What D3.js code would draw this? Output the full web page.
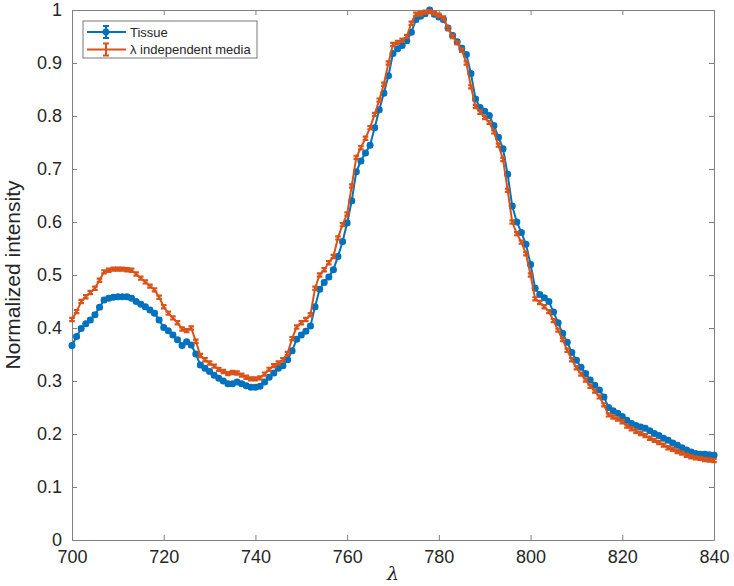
<!DOCTYPE html>
<html>
<head>
<meta charset="utf-8">
<script src="https://cdn.jsdelivr.net/npm/d3@7"></script>
<style>
  body { margin: 0; background: #fff; }
  text { font-family: "Liberation Sans", Arial, Helvetica, sans-serif; fill: #262626; }
</style>
</head>
<body>
<div id="chart"></div>
<script>
// wavelengths (nm)
var wavelengths = [700,701,702,703,704,705,706,707,708,709,710,711,712,713,714,715,716,717,718,719,
  720,721,722,723,724,725,726,727,728,729,730,731,732,733,734,735,736,737,738,739,
  740,741,742,743,744,745,746,747,748,749,750,751,752,753,754,755,756,757,758,759,
  760,761,762,763,764,765,766,767,768,769,770,771,772,773,774,775,776,777,778,779,
  780,781,782,783,784,785,786,787,788,789,790,791,792,793,794,795,796,797,798,799,
  800,801,802,803,804,805,806,807,808,809,810,811,812,813,814,815,816,817,818,819,
  820,821,822,823,824,825,826,827,828,829,830,831,832,833,834,835,836,837,838,839,840];

var tissue = [0.367,0.384,0.399,0.408,0.415,0.425,0.439,0.453,0.456,0.458,0.459,0.459,0.459,0.456,0.450,0.445,0.440,0.434,0.428,0.415,
  0.401,0.395,0.387,0.378,0.367,0.374,0.368,0.351,0.330,0.324,0.318,0.311,0.305,0.300,0.295,0.295,0.298,0.295,0.291,0.288,
  0.288,0.290,0.298,0.307,0.315,0.324,0.329,0.340,0.357,0.379,0.387,0.394,0.404,0.440,0.473,0.486,0.496,0.510,0.535,0.563,
  0.598,0.640,0.695,0.715,0.730,0.745,0.778,0.812,0.843,0.876,0.918,0.927,0.933,0.942,0.958,0.982,0.988,0.993,1.000,0.992,
  0.987,0.982,0.966,0.952,0.940,0.928,0.916,0.880,0.832,0.816,0.809,0.801,0.782,0.760,0.738,0.690,0.630,0.600,0.580,0.558,
  0.520,0.475,0.463,0.457,0.450,0.430,0.410,0.390,0.373,0.354,0.339,0.326,0.314,0.302,0.292,0.283,0.270,0.250,0.244,0.239,
  0.233,0.226,0.220,0.216,0.213,0.211,0.206,0.201,0.197,0.192,0.188,0.183,0.179,0.174,0.170,0.166,0.163,0.162,0.162,0.161,0.160];

var media = [0.416,0.431,0.450,0.459,0.467,0.475,0.490,0.506,0.509,0.511,0.511,0.511,0.510,0.509,0.502,0.494,0.487,0.479,0.472,0.458,
  0.440,0.428,0.419,0.410,0.398,0.395,0.400,0.375,0.348,0.340,0.334,0.328,0.322,0.318,0.314,0.316,0.315,0.311,0.307,0.304,
  0.304,0.306,0.313,0.322,0.329,0.334,0.340,0.352,0.380,0.402,0.410,0.416,0.425,0.475,0.500,0.510,0.523,0.535,0.570,0.595,
  0.615,0.668,0.722,0.740,0.758,0.778,0.803,0.830,0.860,0.900,0.935,0.939,0.943,0.950,0.975,0.992,0.993,0.996,0.997,0.994,
  0.990,0.985,0.965,0.950,0.938,0.924,0.900,0.855,0.818,0.807,0.797,0.788,0.770,0.745,0.718,0.660,0.600,0.578,0.562,0.540,
  0.500,0.455,0.448,0.440,0.431,0.414,0.396,0.378,0.358,0.340,0.325,0.313,0.302,0.290,0.281,0.270,0.255,0.236,0.232,0.228,
  0.223,0.215,0.210,0.205,0.201,0.197,0.192,0.188,0.184,0.179,0.174,0.171,0.167,0.164,0.160,0.157,0.155,0.154,0.152,0.151,0.150];

var errHalf = 0.003;   // error bars are tiny, about the same everywhere
var xTicks = [700,720,740,760,780,800,820,840];
var yTicks = [0,0.1,0.2,0.3,0.4,0.5,0.6,0.7,0.8,0.9,1];
var seriesNames = ["Tissue", "\u03bb independent media"];
var colors = ["#0072BD", "#D95319"];

var margin = {top: 10, right: 20, bottom: 46, left: 72},
    width = 734 - margin.left - margin.right,
    height = 586 - margin.top - margin.bottom;

var svg = d3.select("#chart").append("svg")
    .attr("width", 734)
    .attr("height", 586)
  .append("g")
    .attr("transform", "translate(" + margin.left + "," + margin.top + ")");

var x = d3.scaleLinear().domain([700, 840]).range([0, width]);
var y = d3.scaleLinear().domain([0, 1]).range([height, 0]);
var fmt = function(d){ return String(+d.toFixed(1)); };

function styleAxis(g){
    g.selectAll(".domain").attr("stroke", "#808080");
    g.selectAll(".tick line").attr("stroke", "#808080");
    g.selectAll("text").attr("fill", "#262626")
      .style("font-family", '"Liberation Sans", Arial, sans-serif')
      .style("font-size", "18px");
}

svg.append("g")
    .attr("transform", "translate(0," + height + ")")
    .call(d3.axisBottom(x).tickValues(xTicks).tickFormat(fmt).tickSizeInner(-5).tickSizeOuter(0).tickPadding(10))
    .call(styleAxis);
svg.append("g")
    .call(d3.axisTop(x).tickValues(xTicks).tickFormat("").tickSizeInner(-5).tickSizeOuter(0))
    .call(styleAxis);
svg.append("g")
    .call(d3.axisLeft(y).tickValues(yTicks).tickFormat(fmt).tickSizeInner(-5).tickSizeOuter(0).tickPadding(10))
    .call(styleAxis);
svg.append("g")
    .attr("transform", "translate(" + width + ",0)")
    .call(d3.axisRight(y).tickValues(yTicks).tickFormat("").tickSizeInner(-5).tickSizeOuter(0))
    .call(styleAxis);

var line = d3.line()
    .x(function(d){ return x(d[0]); })
    .y(function(d){ return y(d[1]); });

function errPath(d){
    var cx = x(d[0]), y0 = y(d[1] - errHalf), y1 = y(d[1] + errHalf);
    return "M" + (cx - 2.8) + "," + y0 + "H" + (cx + 2.8) +
           "M" + cx + "," + y0 + "V" + y1 +
           "M" + (cx - 2.8) + "," + y1 + "H" + (cx + 2.8);
}

var tissueData = wavelengths.map(function(w, i){ return [w, tissue[i]]; });
var mediaData = wavelengths.map(function(w, i){ return [w, media[i]]; });

// tissue: line + filled circles
svg.append("path").datum(tissueData)
    .attr("d", line).attr("fill", "none")
    .attr("stroke", colors[0]).attr("stroke-width", 2);
svg.append("g").selectAll("path").data(tissueData).enter().append("path")
    .attr("d", errPath).attr("fill", "none")
    .attr("stroke", colors[0]).attr("stroke-width", 2);
svg.append("g").selectAll("circle").data(tissueData).enter().append("circle")
    .attr("cx", function(d){ return x(d[0]); })
    .attr("cy", function(d){ return y(d[1]); })
    .attr("r", 3.5)
    .attr("fill", colors[0]);

// media: line + error bars
svg.append("path").datum(mediaData)
    .attr("d", line).attr("fill", "none")
    .attr("stroke", colors[1]).attr("stroke-width", 2);
svg.append("g").selectAll("path").data(mediaData).enter().append("path")
    .attr("d", errPath).attr("fill", "none")
    .attr("stroke", colors[1]).attr("stroke-width", 2.2);

// axis labels
svg.append("text")
    .attr("x", width / 2).attr("y", height + 40)
    .attr("text-anchor", "middle")
    .style("font-size", "19px").style("font-style", "italic")
    .style("font-family", '"DejaVu Serif", "Liberation Serif", serif')
    .text("\u03bb");
svg.append("text")
    .attr("transform", "translate(" + (-52) + "," + (height / 2) + ") rotate(-90)")
    .attr("text-anchor", "middle")
    .style("font-size", "21px")
    .text("Normalized intensity");

// legend
var leg = svg.append("g").attr("transform", "translate(" + (83 - margin.left) + "," + (21 - margin.top) + ")");
leg.append("rect").attr("width", 174).attr("height", 37)
    .attr("fill", "#fff").attr("stroke", "#555").attr("stroke-width", 0.8);
seriesNames.forEach(function(name, i){
    var ly = 11 + i * 17.5;
    leg.append("line").attr("x1", 4).attr("x2", 43).attr("y1", ly).attr("y2", ly)
        .attr("stroke", colors[i]).attr("stroke-width", 2);
    leg.append("path")
        .attr("d", "M20," + (ly - 6) + "H26M23," + (ly - 6) + "V" + (ly + 6) + "M20," + (ly + 6) + "H26")
        .attr("fill", "none").attr("stroke", colors[i]).attr("stroke-width", 2);
    if (i === 0) {
        leg.append("circle").attr("cx", 23).attr("cy", ly).attr("r", 3.4).attr("fill", colors[i]);
    }
    leg.append("text").attr("x", 47).attr("y", ly + 4.5)
        .style("font-size", "13px")
        .text(name);
});
</script>
</body>
</html>
